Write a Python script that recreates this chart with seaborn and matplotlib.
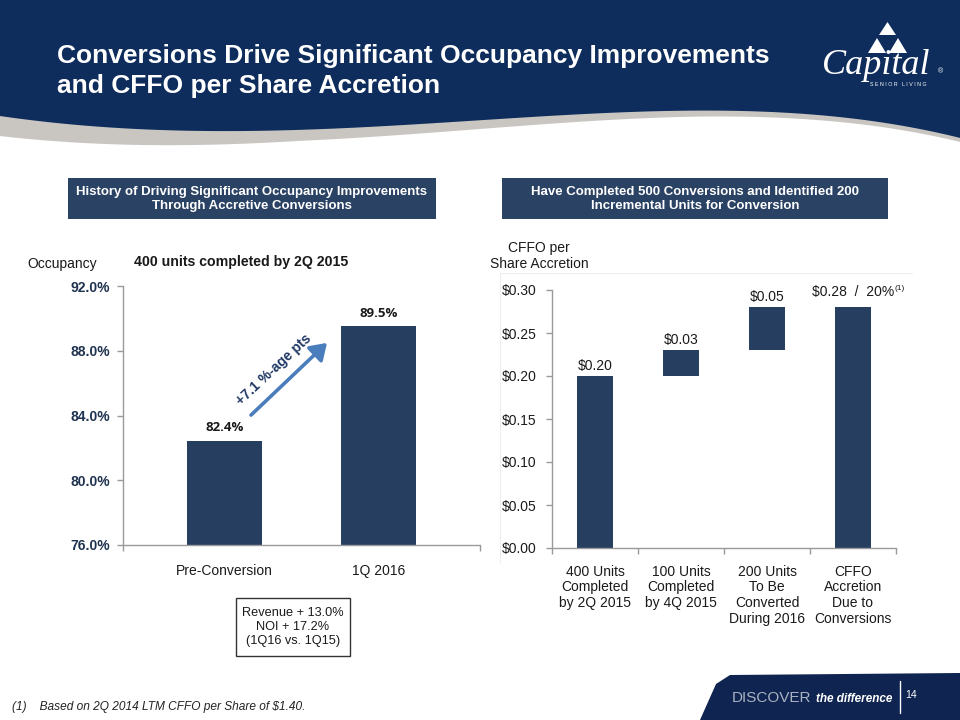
import numpy as np
import pandas as pd
import matplotlib
matplotlib.use("Agg")
import matplotlib.pyplot as plt
import seaborn as sns
from matplotlib.patches import Polygon, Rectangle, FancyArrowPatch
from matplotlib.ticker import FixedLocator

# ---------------- data ----------------
occ_categories = ["Pre-Conversion", "1Q 2016"]
occ_values = [82.4, 89.5]
occ_value_labels = ["82.4%", "89.5%"]
occ_ticks = [76.0, 80.0, 84.0, 88.0, 92.0]
occ_tick_labels = ["76.0%", "80.0%", "84.0%", "88.0%", "92.0%"]

cffo_categories = ["400 Units\nCompleted\nby 2Q 2015",
                   "100 Units\nCompleted\nby 4Q 2015",
                   "200 Units\nTo Be\nConverted\nDuring 2016",
                   "CFFO\nAccretion\nDue to\nConversions"]
cffo_bottom = [0.00, 0.20, 0.23, 0.00]
cffo_top = [0.20, 0.23, 0.28, 0.28]
cffo_value_labels = ["\\$0.20", "\\$0.03", "\\$0.05", "\\$0.28  /  20%"]
cffo_ticks = [0.00, 0.05, 0.10, 0.15, 0.20, 0.25, 0.30]
cffo_tick_labels = ["\\$0.00", "\\$0.05", "\\$0.10", "\\$0.15", "\\$0.20", "\\$0.25", "\\$0.30"]

# ---------------- style ----------------
sns.set_theme(style="white")
plt.rcParams["font.family"] = ["Liberation Sans", "DejaVu Sans"]

NAVY = "#0e2d5c"
BAR = "#263f60"
BOX = "#2a4264"
AXIS = "#9a9a9a"
TXT = "#1a1a1a"
TICKNAVY = "#1f3350"

W, H = 960, 720
fig = plt.figure(figsize=(9.6, 7.2), dpi=100)
fig.patch.set_facecolor("white")

# background / decoration axes in pixel coordinates
bg = fig.add_axes([0, 0, 1, 1], zorder=0)
bg.set_xlim(0, W)
bg.set_ylim(H, 0)
bg.axis("off")

# header wave
xs = np.linspace(0, W, 200)
wave_px = [0, 200, 450, 680, 850, 960]
wave_py = [116, 131, 122, 111, 118, 138]
coef = np.polyfit(wave_px, wave_py, 4)
navy_bottom = np.polyval(coef, xs)
thick = np.interp(xs, [0, 300, 700, 960], [20, 11, 6, 4])
grey_bottom = navy_bottom + thick
grey_poly = np.column_stack([np.r_[xs, xs[::-1]], np.r_[grey_bottom, navy_bottom[::-1] - 2]])
bg.add_patch(Polygon(grey_poly, closed=True, facecolor="#c9c6c2", edgecolor="none"))
navy_poly = np.column_stack([np.r_[xs, W, 0], np.r_[navy_bottom, 0, 0]])
bg.add_patch(Polygon(navy_poly, closed=True, facecolor=NAVY, edgecolor="none"))

# title
bg.text(57, 56, "Conversions Drive Significant Occupancy Improvements",
        color="white", fontsize=19, fontweight="bold", va="center", ha="left")
bg.text(57, 86, "and CFFO per Share Accretion",
        color="white", fontsize=19, fontweight="bold", va="center", ha="left")

# logo
for tri in [[(879, 35), (896, 35), (887.5, 22)],
            [(868, 53), (886, 53), (877, 38)],
            [(889, 53), (907, 53), (898, 38)]]:
    bg.add_patch(Polygon(tri, closed=True, facecolor="white", edgecolor="none"))
bg.text(876, 66, "Capital", color="white", fontsize=26, fontstyle="italic",
        family=["Liberation Serif", "DejaVu Serif"], ha="center", va="center")
bg.text(938, 72, "®", color="white", fontsize=5, ha="left", va="center")
bg.text(898, 85, "S E N I O R   L I V I N G", color="white", fontsize=3.8,
        ha="center", va="center")

# section header boxes
bg.add_patch(Rectangle((68, 178), 368, 41, facecolor=BOX, edgecolor="none"))
bg.text(252, 199, "History of Driving Significant Occupancy Improvements\nThrough Accretive Conversions",
        color="white", fontsize=9.5, fontweight="bold", ha="center", va="center", linespacing=1.25)
bg.add_patch(Rectangle((502, 178), 386, 41, facecolor=BOX, edgecolor="none"))
bg.text(695, 199, "Have Completed 500 Conversions and Identified 200\nIncremental Units for Conversion",
        color="white", fontsize=9.5, fontweight="bold", ha="center", va="center", linespacing=1.25)

# faint frame around right chart
bg.plot([500, 912], [273, 273], color="#eeeeee", lw=0.8)
bg.plot([500, 500], [273, 563], color="#eeeeee", lw=0.8)

# chart captions
bg.text(27, 264, "Occupancy", color=TXT, fontsize=10, ha="left", va="center")
bg.text(134, 262, "400 units completed by 2Q 2015", color=TXT, fontsize=10.2,
        fontweight="bold", ha="left", va="center")
bg.text(539, 256, "CFFO per\nShare Accretion", color=TXT, fontsize=10,
        ha="center", va="center", linespacing=1.15)

# revenue box
bg.add_patch(Rectangle((236, 598), 114, 58, facecolor="white", edgecolor="#333333", lw=1))
bg.text(293, 627, "Revenue + 13.0%\nNOI + 17.2%\n(1Q16 vs. 1Q15)", color=TXT, fontsize=9.2,
        ha="center", va="center", linespacing=1.25)

# arrow with label
bg.add_patch(FancyArrowPatch((249, 417), (329, 341), arrowstyle="-|>,head_length=6,head_width=4",
                             color="#4a7dbb", lw=2.6, mutation_scale=1.6))
bg.text(274, 370, "+7.1 %-age pts", color="#1f3864", fontsize=10, fontweight="bold",
        rotation=43, ha="center", va="center", rotation_mode="anchor")

# footnote
bg.text(12, 707, "(1)    Based on 2Q 2014 LTM CFFO per Share of \\$1.40.", color="#222222",
        fontsize=8.6, fontstyle="italic", ha="left", va="center")

# footer band
foot = [(700, 720), (716, 684), (730, 675), (960, 673), (960, 720)]
bg.add_patch(Polygon(foot, closed=True, facecolor="#0f2450", edgecolor="none"))
bg.text(732, 698, "DISCOVER", color="#a9b3c4", fontsize=11, ha="left", va="center")
bg.text(816, 699, "the difference", color="white", fontsize=8.5, ha="left", va="center",
        fontstyle="italic", fontweight="bold")
bg.plot([900, 900], [681, 713], color="white", lw=1)
bg.text(905, 695, "14", color="white", fontsize=7.5, ha="left", va="center")

# ---------------- left chart: occupancy ----------------
ax1 = fig.add_axes([123 / W, 1 - 545 / H, (480 - 123) / W, (545 - 286) / H], zorder=2)
ax1.set_facecolor("none")
occ_df = pd.DataFrame({"cat": occ_categories, "val": occ_values})
sns.barplot(data=occ_df, x="cat", y="val", ax=ax1, color=BAR, saturation=1,
            width=0.49, edgecolor="none")
ax1.set_ylim(occ_ticks[0], occ_ticks[-1])
ax1.set_xlim(-0.66, 1.66)
ax1.set_yticks(occ_ticks)
ax1.set_yticklabels(occ_tick_labels, fontweight="bold", color=TICKNAVY, fontsize=10)
ax1.set_xlabel("")
ax1.set_ylabel("")
for s in ["top", "right"]:
    ax1.spines[s].set_visible(False)
for s in ["left", "bottom"]:
    ax1.spines[s].set_color(AXIS)
    ax1.spines[s].set_linewidth(1)
ax1.tick_params(axis="y", direction="out", length=4, width=1, color=AXIS, pad=5, left=True)
ax1.tick_params(axis="x", which="major", length=0, pad=14, labelsize=10, labelcolor=TXT)
ax1.xaxis.set_minor_locator(FixedLocator([-0.66, 1.66]))
ax1.tick_params(axis="x", which="minor", direction="out", length=4, width=1, color=AXIS, bottom=True)
for i, (v, lab) in enumerate(zip(occ_values, occ_value_labels)):
    ax1.annotate(lab, (i, v), xytext=(0, 5), textcoords="offset points", ha="center",
                 va="bottom", fontsize=9.5, fontweight="bold", color=TXT,
                 family=["Open Sans", "DejaVu Sans"])

# ---------------- right chart: CFFO waterfall ----------------
ax2 = fig.add_axes([552 / W, 1 - 548 / H, (896 - 552) / W, (548 - 290) / H], zorder=2)
ax2.set_facecolor("none")
heights = [t - b for t, b in zip(cffo_top, cffo_bottom)]
cffo_df = pd.DataFrame({"cat": cffo_categories, "height": heights})
sns.barplot(data=cffo_df, x="cat", y="height", ax=ax2, color=BAR, saturation=1,
            width=0.41, edgecolor="none", bottom=cffo_bottom)
ax2.set_ylim(cffo_ticks[0], cffo_ticks[-1])
ax2.set_xlim(-0.5, 3.5)
ax2.set_yticks(cffo_ticks)
ax2.set_yticklabels(cffo_tick_labels, color=TXT, fontsize=10)
ax2.set_xlabel("")
ax2.set_ylabel("")
for s in ["top", "right"]:
    ax2.spines[s].set_visible(False)
for s in ["left", "bottom"]:
    ax2.spines[s].set_color(AXIS)
    ax2.spines[s].set_linewidth(1)
ax2.tick_params(axis="y", direction="out", length=4, width=1, color=AXIS, pad=7, left=True)
ax2.tick_params(axis="x", which="major", length=0, pad=12, labelsize=10, labelcolor=TXT)
for lbl in ax2.get_xticklabels():
    lbl.set_linespacing(1.15)
ax2.xaxis.set_minor_locator(FixedLocator([-0.5, 0.5, 1.5, 2.5, 3.5]))
ax2.tick_params(axis="x", which="minor", direction="out", length=4, width=1, color=AXIS, bottom=True)
last = None
for i, (t, lab) in enumerate(zip(cffo_top, cffo_value_labels)):
    off = 6 if i == 3 else 2
    last = ax2.annotate(lab, (i, t), xytext=(0, off), textcoords="offset points", ha="center",
                        va="bottom", fontsize=10, color=TXT)
ax2.annotate("(1)", xy=(1, 1), xycoords=last, xytext=(0, 0), textcoords="offset points",
             ha="left", va="top", fontsize=6, color=TXT)

fig.savefig("out.png", dpi=100)
